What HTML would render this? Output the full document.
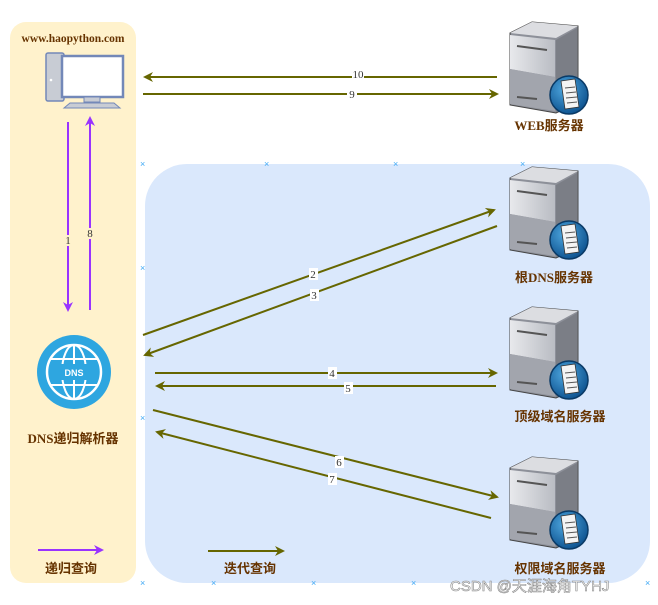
<!DOCTYPE html>
<html><head><meta charset="utf-8"><style>
html,body{margin:0;padding:0;background:#fff;}
svg{display:block;}
text{font-family:"Liberation Serif","Noto Serif CJK SC",serif;}
.lb{font-family:"Liberation Serif","Noto Sans CJK SC",sans-serif;font-weight:bold;font-size:13px;fill:#663300;}
.n{font-family:"Liberation Serif",serif;font-size:11px;fill:#333;}
.ss{font-family:"Liberation Sans","Noto Sans CJK SC",sans-serif;}
</style></head><body>
<svg width="658" height="605" viewBox="0 0 658 605" xmlns="http://www.w3.org/2000/svg">
<defs>
<marker id="ao" markerWidth="10" markerHeight="10" refX="8" refY="5" orient="auto" markerUnits="userSpaceOnUse"><path d="M0,0 L10,5 L0,10 L3,5 Z" fill="#666600"/></marker>
<marker id="ap" markerWidth="10" markerHeight="10" refX="8" refY="5" orient="auto" markerUnits="userSpaceOnUse"><path d="M0,0 L10,5 L0,10 L3,5 Z" fill="#9933ff"/></marker>
<linearGradient id="sg" x1="0" x2="1"><stop offset="0" stop-color="#e8e9ec"/><stop offset="1" stop-color="#b9bcc3"/></linearGradient>
<radialGradient id="gg" cx="0.4" cy="0.35" r="0.7"><stop offset="0" stop-color="#4fa8e0"/><stop offset="1" stop-color="#0b4f8c"/></radialGradient>
<g id="srv">
<polygon points="510,178 532,167 578,171 578,248 556,258 510,250" fill="#8d9099" stroke="#444" stroke-width="1"/>
<polygon points="510,178 532,167 578,171 556,183" fill="#dcdde1"/>
<polygon points="510,180 555,185 555,222 510,214" fill="url(#sg)"/>
<polygon points="510,214 555,222 555,256 510,249" fill="#a2a5ad"/>
<polygon points="556,185 577,173 577,248 556,257" fill="#7b7e86"/>
<line x1="517" y1="191" x2="547" y2="195" stroke="#555" stroke-width="2"/>
<line x1="517" y1="242" x2="537" y2="244" stroke="#555" stroke-width="2"/>
<circle cx="569" cy="240" r="19" fill="url(#gg)" stroke="#0a3a66" stroke-width="1.5"/>
<polygon points="561,226 575,224 579,252 565,254" fill="#f4f4f4" stroke="#333" stroke-width="0.8"/>
<line x1="565" y1="233" x2="575" y2="232" stroke="#555"/><line x1="566" y1="238" x2="576" y2="237" stroke="#555"/><line x1="566" y1="243" x2="577" y2="242" stroke="#555"/><line x1="567" y1="248" x2="577" y2="247" stroke="#555"/>
</g>
</defs>
<rect x="10" y="22" width="126" height="561" rx="16" fill="#fff2cc"/>
<rect x="145" y="164" width="505" height="419" rx="42" fill="#dae8fc"/>
<g fill="#3fa9f5" font-size="9" class="ss">
<text x="140" y="167" class="ss">×</text><text x="264" y="167" class="ss">×</text><text x="393" y="167" class="ss">×</text><text x="140" y="271" class="ss">×</text><text x="140" y="421" class="ss">×</text><text x="140" y="586" class="ss">×</text><text x="211" y="586" class="ss">×</text><text x="311" y="586" class="ss">×</text><text x="411" y="586" class="ss">×</text><text x="645" y="586" class="ss">×</text><text x="520" y="167" class="ss">×</text>
</g>
<text x="73" y="42" text-anchor="middle" font-size="11.5" font-weight="bold" fill="#663300">www.haopython.com</text>
<!-- computer -->
<rect x="46" y="53" width="18" height="48" rx="2" fill="#c8ccd4" stroke="#7388b8" stroke-width="1.5"/>
<circle cx="51" cy="80" r="1.3" fill="#fff"/>
<rect x="62" y="56" width="61" height="41" fill="#fff" stroke="#7388b8" stroke-width="2.5"/>
<rect x="84" y="97" width="16" height="5" fill="#c8ccd4" stroke="#7388b8"/>
<polygon points="70,103 114,103 120,108 64,108" fill="#c8ccd4" stroke="#7388b8"/>
<!-- DNS globe -->
<circle cx="74" cy="372" r="37" fill="#2ea6e0"/>
<circle cx="74" cy="372" r="27" fill="none" stroke="#fff" stroke-width="2.5"/>
<ellipse cx="74" cy="372" rx="12" ry="27" fill="none" stroke="#fff" stroke-width="2"/>
<line x1="74" y1="345" x2="74" y2="399" stroke="#fff" stroke-width="2"/>
<line x1="50" y1="359" x2="98" y2="359" stroke="#fff" stroke-width="2"/><line x1="50" y1="385" x2="98" y2="385" stroke="#fff" stroke-width="2"/>
<rect x="60" y="364" width="28" height="16" fill="#2ea6e0"/>
<text x="74" y="376" text-anchor="middle" class="ss" font-weight="bold" font-size="9" fill="#fff">DNS</text>
<text x="73" y="443" text-anchor="middle" class="lb">DNS递归解析器</text>
<!-- servers -->
<use href="#srv" transform="translate(0,-145)"/>
<use href="#srv"/>
<use href="#srv" transform="translate(0,140)"/>
<use href="#srv" transform="translate(0,290)"/>
<text x="549" y="130" text-anchor="middle" class="lb">WEB服务器</text>
<text x="554" y="282" text-anchor="middle" class="lb">根DNS服务器</text>
<text x="560" y="421" text-anchor="middle" class="lb">顶级域名服务器</text>
<text x="560" y="573" text-anchor="middle" class="lb">权限域名服务器</text>
<!-- arrows -->
<g stroke="#666600" stroke-width="2" fill="none">
<line x1="497" y1="77" x2="145" y2="77" marker-end="url(#ao)"/>
<line x1="143" y1="94" x2="497" y2="94" marker-end="url(#ao)"/>
<line x1="143" y1="335" x2="494" y2="210" marker-end="url(#ao)"/>
<line x1="497" y1="226" x2="145" y2="355" marker-end="url(#ao)"/>
<line x1="155" y1="373" x2="496" y2="373" marker-end="url(#ao)"/>
<line x1="496" y1="386" x2="157" y2="386" marker-end="url(#ao)"/>
<line x1="153" y1="410" x2="497" y2="497" marker-end="url(#ao)"/>
<line x1="491" y1="518" x2="157" y2="432" marker-end="url(#ao)"/>
<line x1="208" y1="551" x2="283" y2="551" marker-end="url(#ao)"/>
</g>
<g stroke="#9933ff" stroke-width="2" fill="none">
<line x1="68" y1="122" x2="68" y2="310" marker-end="url(#ap)"/>
<line x1="90" y1="310" x2="90" y2="118" marker-end="url(#ap)"/>
<line x1="38" y1="550" x2="102" y2="550" marker-end="url(#ap)"/>
</g>
<g class="n" text-anchor="middle">
<rect x="352" y="69" width="12" height="11" fill="#fff"/><text x="358" y="78">10</text>
<rect x="347" y="89" width="10" height="11" fill="#fff"/><text x="352" y="98">9</text>
<rect x="64" y="235" width="8" height="11" fill="#fff2cc"/><text x="68" y="244">1</text>
<rect x="86" y="228" width="8" height="11" fill="#fff2cc"/><text x="90" y="237">8</text>
<rect x="309" y="268" width="9" height="12" fill="#fff"/><text x="313" y="278">2</text>
<rect x="310" y="289" width="9" height="12" fill="#fff"/><text x="314" y="299">3</text>
<rect x="328" y="367" width="9" height="12" fill="#fff"/><text x="332" y="377">4</text>
<rect x="344" y="382" width="9" height="12" fill="#fff"/><text x="348" y="392">5</text>
<rect x="335" y="456" width="9" height="12" fill="#fff"/><text x="339" y="466">6</text>
<rect x="328" y="473" width="9" height="12" fill="#fff"/><text x="332" y="483">7</text>
</g>
<text x="71" y="573" text-anchor="middle" class="lb">递归查询</text>
<text x="250" y="573" text-anchor="middle" class="lb">迭代查询</text>
<text x="450" y="591" class="ss" font-size="15" fill="#fff" stroke="#888" stroke-width="0.6">CSDN @天涯海角TYHJ</text>
</svg>
</body></html>
